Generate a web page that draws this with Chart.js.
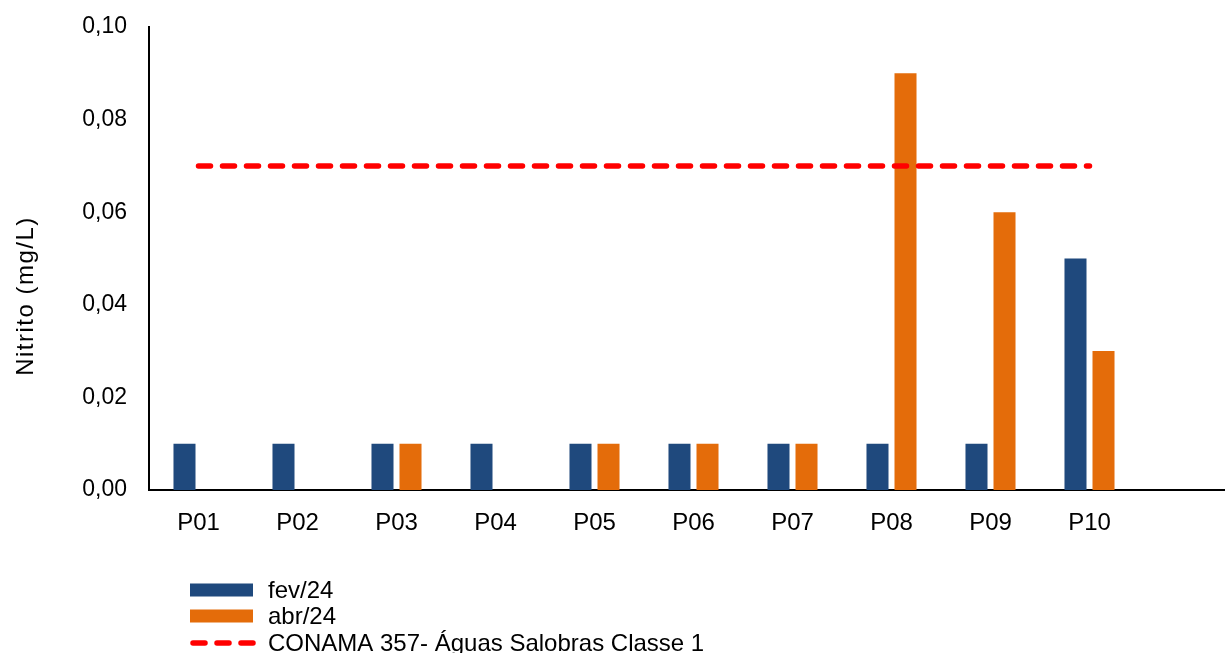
<!DOCTYPE html>
<html>
<head>
<meta charset="utf-8">
<title>Nitrito</title>
<script src="https://cdn.jsdelivr.net/npm/chart.js@4/dist/chart.umd.min.js"></script>
<style>
    html, body { margin: 0; padding: 0; background: #fff; overflow: hidden; }
    #wrap { position: relative; width: 1238px; height: 653px; }
</style>
</head>
<body>
<div id="wrap"><canvas id="nitrito-chart"></canvas></div>
<script>
// Chart data (last slot is empty, the axis runs past P10)
const categories = ['P01', 'P02', 'P03', 'P04', 'P05', 'P06', 'P07', 'P08', 'P09', 'P10', ''];
const fev24 = [0.01, 0.01, 0.01, 0.01, 0.01, 0.01, 0.01, 0.01, 0.01, 0.05, null];
const abr24 = [null, null, 0.01, null, 0.01, 0.01, 0.01, 0.09, 0.06, 0.03, null];
const conamaLimit = [0.07, 0.07, 0.07, 0.07, 0.07, 0.07, 0.07, 0.07, 0.07, 0.07, null];
const yTicks = [0, 0.02, 0.04, 0.06, 0.08, 0.10];

const yTitle = 'Nitrito (mg/L)';
const seriesNames = ['fev/24', 'abr/24', 'CONAMA 357- Águas Salobras Classe 1'];

const FONT = 'Arial, "Liberation Sans", sans-serif';
const NAVY = 'rgb(31, 73, 125)';
const ORANGE = 'rgb(228, 108, 10)';
const RED = 'rgb(255, 0, 0)';

// Draws the rotated y title and the stacked legend under the chart
const extrasPlugin = {
    id: 'extras',
    afterDraw(chart) {
        const ctx = chart.ctx;
        ctx.save();
        ctx.fillStyle = '#000';
        ctx.font = '24px ' + FONT;
        ctx.letterSpacing = '1.5px';
        ctx.textAlign = 'center';
        ctx.textBaseline = 'middle';
        ctx.translate(26, 296);
        ctx.rotate(-Math.PI / 2);
        ctx.fillText(yTitle, 0, 0);
        ctx.restore();

        const rows = [590, 616, 643];
        chart.data.datasets.forEach((ds, i) => {
            const y = rows[i];
            ctx.save();
            if (ds.type === 'line') {
                ctx.strokeStyle = ds.borderColor;
                ctx.lineWidth = ds.borderWidth;
                ctx.lineCap = 'round';
                ctx.setLineDash(ds.borderDash);
                ctx.beginPath();
                ctx.moveTo(193, y);
                ctx.lineTo(253, y);
                ctx.stroke();
            } else {
                ctx.fillStyle = ds.backgroundColor;
                ctx.fillRect(190, y - 6.5, 63, 13);
            }
            ctx.fillStyle = '#000';
            ctx.font = '24px ' + FONT;
            ctx.textAlign = 'left';
            ctx.textBaseline = 'middle';
            ctx.fillText(ds.label, 268, y + 1);
            ctx.restore();
        });
    }
};

new Chart(document.getElementById('nitrito-chart'), {
    type: 'bar',
    data: {
        labels: categories,
        datasets: [
            {
                label: seriesNames[0],
                data: fev24,
                backgroundColor: NAVY,
                categoryPercentage: 0.566,
                barPercentage: 0.786,
                order: 1
            },
            {
                label: seriesNames[1],
                data: abr24,
                backgroundColor: ORANGE,
                categoryPercentage: 0.566,
                barPercentage: 0.786,
                order: 1
            },
            {
                type: 'line',
                label: seriesNames[2],
                data: conamaLimit,
                borderColor: RED,
                borderWidth: 5.5,
                borderDash: [12, 12],
                borderCapStyle: 'round',
                pointRadius: 0,
                fill: false,
                order: 0
            }
        ]
    },
    options: {
        responsive: true,
        maintainAspectRatio: false,
        animation: false,
        layout: { padding: { top: 27, bottom: 93, left: 0, right: 0 } },
        plugins: {
            legend: { display: false },
            tooltip: { enabled: false }
        },
        scales: {
            x: {
                grid: { display: false },
                border: { display: true, color: '#000', width: 2 },
                ticks: { color: '#000', font: { family: FONT, size: 24 }, padding: 11 },
                afterFit: (s) => { s.height = 70; s.paddingLeft = 0; s.paddingRight = 0; }
            },
            y: {
                min: 0,
                max: 0.1,
                afterBuildTicks: (s) => { s.ticks = yTicks.map(v => ({ value: v })); },
                grid: { display: false },
                border: { display: true, color: '#000', width: 2 },
                ticks: {
                    color: '#000',
                    font: { family: FONT, size: 23 },
                    padding: 14,
                    callback: (v) => Number(v).toFixed(2).replace('.', ',')
                },
                afterFit: (s) => { s.width = 149; s.paddingTop = 0; s.paddingBottom = 0; }
            }
        }
    },
    plugins: [extrasPlugin]
});
</script>
</body>
</html>
